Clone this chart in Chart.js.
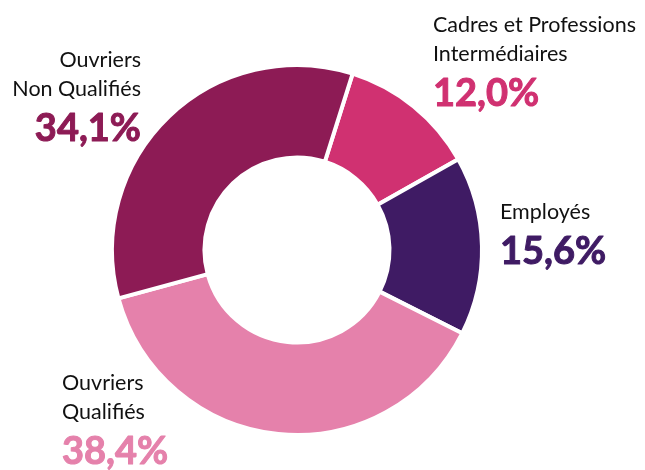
<!DOCTYPE html>
<html>
<head>
<meta charset="utf-8">
<script src="https://cdn.jsdelivr.net/npm/chart.js@4.4.0/dist/chart.umd.min.js"></script>
<style>
  html, body { margin: 0; padding: 0; background: #fff; }
  #wrap { width: 645px; height: 470px; position: relative; }
</style>
</head>
<body>
<div id="wrap"><canvas id="repartition"></canvas></div>
<script>
// Données (parts en %)
const categories = [
  ['Cadres et Professions', 'Intermédiaires'],
  ['Employés'],
  ['Ouvriers', 'Qualifiés'],
  ['Ouvriers', 'Non Qualifiés'],
];
const parts = [12.0, 15.6, 38.4, 34.1];
const couleurs = ['#d03171', '#3f1b64', '#e581ab', '#8d1b55'];

// emplacement des étiquettes (x, y de la première ligne, alignement)
const positions = [
  { x: 433, y: 25, align: 'left' },
  { x: 500, y: 212, align: 'left' },
  { x: 62, y: 383, align: 'left' },
  { x: 141, y: 60, align: 'right' },
];

const fmt = (v) => v.toFixed(1).replace('.', ',') + '%';

// Plugin pour les étiquettes extérieures
const etiquettes = {
  id: 'etiquettes',
  afterDraw(chart) {
    const ctx = chart.ctx;
    ctx.save();
    ctx.textBaseline = 'middle';
    categories.forEach((lignes, i) => {
      const p = positions[i];
      ctx.textAlign = p.align;
      ctx.fillStyle = '#111';
      ctx.font = '21.5px Lato';
      let y = p.y;
      lignes.forEach((l) => {
        ctx.fillText(l, p.x, y);
        y += 29;
      });
      // pourcentage en gras, un peu épaissi
      ctx.fillStyle = couleurs[i];
      ctx.strokeStyle = couleurs[i];
      ctx.lineWidth = 1;
      ctx.lineJoin = 'round';
      ctx.font = 'bold 38px Lato';
      ctx.fillText(fmt(parts[i]), p.x, y + 11);
      ctx.strokeText(fmt(parts[i]), p.x, y + 11);
    });
    ctx.restore();
  },
};

const chart = new Chart(document.getElementById('repartition'), {
  type: 'doughnut',
  data: {
    labels: categories.map((c) => c.join(' ')),
    datasets: [
      {
        data: parts,
        backgroundColor: couleurs,
        borderColor: '#ffffff',
        borderWidth: 4,
        hoverOffset: 0,
      },
    ],
  },
  options: {
    responsive: true,
    maintainAspectRatio: false,
    animation: false,
    rotation: 17.5,
    cutout: '50%',
    layout: { padding: { left: 110, right: 161, top: 63, bottom: 33 } },
    plugins: {
      legend: { display: false },
      tooltip: { enabled: false },
    },
  },
  plugins: [etiquettes],
});
</script>
</body>
</html>
